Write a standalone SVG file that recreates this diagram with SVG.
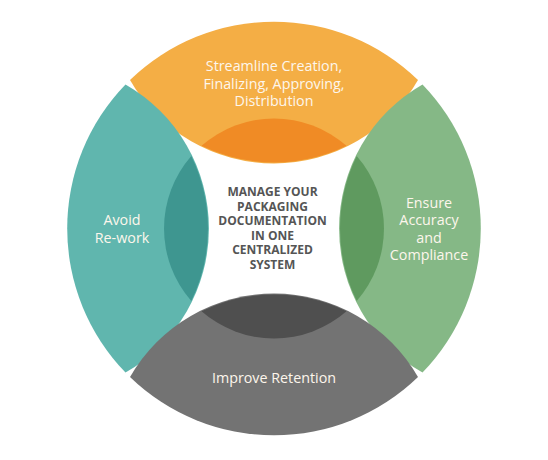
<svg xmlns="http://www.w3.org/2000/svg" width="548" height="460" viewBox="0 0 548 460">
<defs>
<style>
.lbl{font-family:"Open Sans","Liberation Sans",sans-serif;font-size:14.3px;fill:#FDF6EC;text-anchor:middle;font-weight:400}
.ctr{font-family:"Open Sans","Liberation Sans",sans-serif;font-size:12px;font-weight:700;fill:#555555;text-anchor:middle}
</style>
<path id="petal" d="M -144,-148.5 A 207 207 0 0 1 144,-148.5 A 166 166 0 0 1 -144,-148.5 Z"/>
<path id="core" d="M -72.5,-82.7 A 110 110 0 0 1 72.5,-82.7 A 166 166 0 0 1 -72.5,-82.7 Z"/>
</defs>
<rect width="548" height="460" fill="#FFFFFF"/>
<g id="node-top" transform="translate(274,228.5)">
<use href="#petal" fill="#F4AE45"/>
<use href="#core" fill="#F08B25"/>
</g>
<g id="node-left" transform="translate(274,228.5) rotate(-90)">
<use href="#petal" fill="#60B6AE"/>
<use href="#core" fill="#3E9690"/>
</g>
<g id="node-right" transform="translate(274,228.5) rotate(90)">
<use href="#petal" fill="#85B886"/>
<use href="#core" fill="#5F9A5F"/>
</g>
<g id="node-bottom" transform="translate(274,228.5) rotate(180)">
<use href="#petal" fill="#737373"/>
<use href="#core" fill="#4F4F4F"/>
</g>
<g id="labels">
<text class="lbl" x="274" y="71">Streamline Creation,</text>
<text class="lbl" x="274" y="88.5">Finalizing, Approving,</text>
<text class="lbl" x="274" y="106">Distribution</text>
<text class="lbl" x="122" y="225">Avoid</text>
<text class="lbl" x="122" y="242.5">Re-work</text>
<text class="lbl" x="429" y="207.5">Ensure</text>
<text class="lbl" x="429" y="225">Accuracy</text>
<text class="lbl" x="429" y="242.5">and</text>
<text class="lbl" x="429" y="260">Compliance</text>
<text class="lbl" x="274" y="383">Improve Retention</text>
</g>
<g id="node-center">
<text class="ctr" x="272.5" y="196">MANAGE YOUR</text>
<text class="ctr" x="272.5" y="210.6">PACKAGING</text>
<text class="ctr" x="272.5" y="225.2">DOCUMENTATION</text>
<text class="ctr" x="272.5" y="239.8">IN ONE</text>
<text class="ctr" x="272.5" y="254.4">CENTRALIZED</text>
<text class="ctr" x="272.5" y="269">SYSTEM</text>
</g>
<g id="connectors"></g>
</svg>
